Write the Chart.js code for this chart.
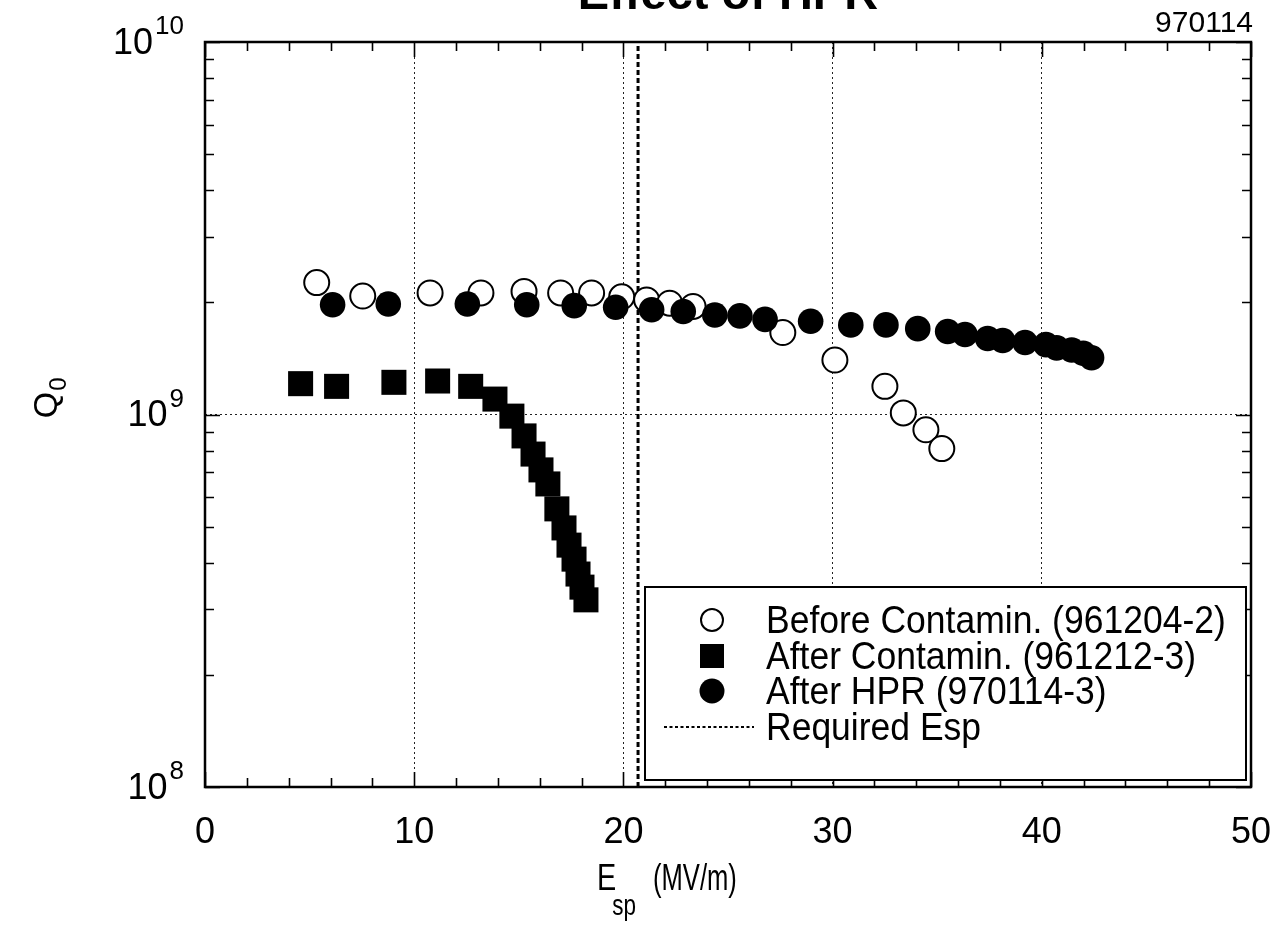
<!DOCTYPE html>
<html>
<head>
<meta charset="utf-8">
<title>Effect of HPR</title>
<script src="https://cdn.jsdelivr.net/npm/chart.js@4.4.1/dist/chart.umd.min.js"></script>
<style>
  html, body { margin: 0; padding: 0; background: #fff; }
  #wrap { width: 1280px; height: 925px; position: relative; overflow: hidden; }
  canvas { display: block; }
</style>
</head>
<body>
<div id="wrap"><canvas id="c" width="1280" height="925"></canvas></div>
<script>
// ---- data: Q0 versus peak surface field Esp (MV/m) ----
const seriesNames = [
  'Before Contamin. (961204-2)',
  'After Contamin. (961212-3)',
  'After HPR (970114-3)',
  'Required Esp'
];

const beforeE = [5.34, 7.54, 10.76, 13.19, 15.25, 17.00, 18.48, 19.92, 21.11, 22.21, 23.33, 27.62, 30.11, 32.50, 33.38, 34.46, 35.22];
const beforeQ = [2.26e9, 2.08e9, 2.12e9, 2.12e9, 2.14e9, 2.12e9, 2.12e9, 2.07e9, 2.03e9, 1.99e9, 1.95e9, 1.66e9, 1.40e9, 1.19e9, 1.01e9, 0.91e9, 0.81e9];

const contamE = [4.57, 6.29, 9.03, 11.12, 12.70, 13.86, 14.67, 15.25, 15.68, 16.06, 16.39, 16.82, 17.16, 17.40, 17.64, 17.83, 18.02, 18.21];
const contamQ = [1.21e9, 1.19e9, 1.22e9, 1.23e9, 1.19e9, 1.10e9, 0.99e9, 0.876e9, 0.783e9, 0.710e9, 0.651e9, 0.558e9, 0.496e9, 0.446e9, 0.409e9, 0.373e9, 0.344e9, 0.318e9];

const hprE = [6.10, 8.76, 12.54, 15.38, 17.65, 19.63, 21.35, 22.86, 24.37, 25.57, 26.77, 28.95, 30.87, 32.55, 34.07, 35.50, 36.33, 37.41, 38.13, 39.20, 40.20, 40.71, 41.43, 41.98, 42.38];
const hprQ = [1.97e9, 1.98e9, 1.98e9, 1.97e9, 1.96e9, 1.94e9, 1.91e9, 1.89e9, 1.85e9, 1.84e9, 1.80e9, 1.78e9, 1.74e9, 1.74e9, 1.70e9, 1.67e9, 1.64e9, 1.60e9, 1.58e9, 1.56e9, 1.54e9, 1.51e9, 1.49e9, 1.46e9, 1.42e9];

const requiredEsp = 20.7;
const qRange = [1e8, 1e10];
const eRange = [0, 50];

// axis ticks and labels
const xMajorTicks = [0, 10, 20, 30, 40, 50];
const xMinorTicks = [2, 4, 6, 8, 12, 14, 16, 18, 22, 24, 26, 28, 32, 34, 36, 38, 42, 44, 46, 48];
const yDecades = [1e8, 1e9, 1e10];
const yExponents = ['8', '9', '10'];
const yMinorTicks = [2e8, 3e8, 4e8, 5e8, 6e8, 7e8, 8e8, 9e8, 2e9, 3e9, 4e9, 5e9, 6e9, 7e9, 8e9, 9e9];

const titleText = 'Effect of HPR';
const runTag = '970114';

const FONT = '"Liberation Sans", Arial, Helvetica, sans-serif';

const toPoints = (xs, ys) => xs.map((x, i) => ({ x: x, y: ys[i] }));

const markerStyles = [
  { pointStyle: 'circle', radius: 12.5, fill: '#ffffff', stroke: '#000000', width: 2 },
  { pointStyle: 'rect', radius: 17.7, fill: '#000000', stroke: '#000000', width: 0 },
  { pointStyle: 'circle', radius: 12.8, fill: '#000000', stroke: '#000000', width: 0 }
];

function scatterSet(i, pts, order) {
  const m = markerStyles[i];
  return {
    type: 'scatter',
    label: seriesNames[i],
    data: pts,
    showLine: false,
    pointStyle: m.pointStyle,
    pointRadius: m.radius,
    pointHoverRadius: m.radius,
    backgroundColor: m.fill,
    borderColor: m.stroke,
    borderWidth: m.width,
    order: order
  };
}

// draws text squeezed horizontally (the lettering is narrow and tall)
function narrowText(ctx, text, x, y, sx, sy) {
  ctx.save();
  ctx.translate(x, y);
  ctx.scale(sx, sy);
  ctx.fillText(text, 0, 0);
  const w = ctx.measureText(text).width * sx;
  ctx.restore();
  return w;
}

// frame, inward tick marks, decade labels with exponents, axis titles
const decorations = {
  id: 'decorations',
  afterDatasetsDraw(chart) {
    const ctx = chart.ctx;
    const a = chart.chartArea;
    const xs = chart.scales.x, ys = chart.scales.y;
    ctx.save();
    ctx.strokeStyle = '#000';
    ctx.lineWidth = 1.6;
    const majorLen = 15, minorLen = 9;
    ctx.beginPath();
    xMinorTicks.forEach(v => {
      const px = Math.round(xs.getPixelForValue(v)) + 0.5;
      ctx.moveTo(px, a.bottom); ctx.lineTo(px, a.bottom - minorLen);
      ctx.moveTo(px, a.top); ctx.lineTo(px, a.top + minorLen);
    });
    xMajorTicks.forEach(v => {
      const px = Math.round(xs.getPixelForValue(v)) + 0.5;
      ctx.moveTo(px, a.bottom); ctx.lineTo(px, a.bottom - majorLen);
      ctx.moveTo(px, a.top); ctx.lineTo(px, a.top + majorLen);
    });
    yMinorTicks.forEach(v => {
      const py = Math.round(ys.getPixelForValue(v)) + 0.5;
      ctx.moveTo(a.left, py); ctx.lineTo(a.left + minorLen, py);
      ctx.moveTo(a.right, py); ctx.lineTo(a.right - minorLen, py);
    });
    yDecades.forEach(v => {
      const py = Math.round(ys.getPixelForValue(v)) + 0.5;
      ctx.moveTo(a.left, py); ctx.lineTo(a.left + majorLen, py);
      ctx.moveTo(a.right, py); ctx.lineTo(a.right - majorLen, py);
    });
    ctx.stroke();

    // plot frame
    ctx.lineWidth = 2.5;
    ctx.strokeRect(a.left, a.top, a.right - a.left, a.bottom - a.top);

    // decade labels 10^n
    ctx.fillStyle = '#000';
    const baseFont = '36px ' + FONT;
    const expFont = '26px ' + FONT;
    const labelRight = 184;
    yDecades.forEach((v, i) => {
      const py = ys.getPixelForValue(v);
      ctx.font = expFont;
      const we = ctx.measureText(yExponents[i]).width;
      ctx.textAlign = 'left';
      ctx.textBaseline = 'alphabetic';
      ctx.fillText(yExponents[i], labelRight - we, py - 8);
      ctx.font = baseFont;
      ctx.textAlign = 'right';
      ctx.textBaseline = 'middle';
      ctx.fillText('10', labelRight - we - 2, py + 2);
    });

    // x axis title: E_sp (MV/m)
    ctx.textAlign = 'left';
    ctx.textBaseline = 'alphabetic';
    ctx.font = '32px ' + FONT;
    const wE = narrowText(ctx, 'E', 597, 890, 0.9, 1.15);
    ctx.font = '25px ' + FONT;
    narrowText(ctx, 'sp', 597 + wE - 4, 915, 0.9, 1.15);
    ctx.font = '32px ' + FONT;
    narrowText(ctx, '(MV/m)', 653, 890, 0.8, 1.15);

    // y axis title: Q_0 (rotated)
    ctx.save();
    ctx.translate(44, 405);
    ctx.rotate(-Math.PI / 2);
    ctx.font = '34px ' + FONT;
    const wQ = ctx.measureText('Q').width;
    ctx.textAlign = 'left';
    ctx.fillText('Q', -wQ / 2, 13);
    ctx.font = '24px ' + FONT;
    ctx.fillText('0', wQ / 2 + 1, 22);
    ctx.restore();

    // title (runs off the top edge) and run tag
    ctx.font = 'bold 47px ' + FONT;
    ctx.textAlign = 'center';
    ctx.fillText(titleText, (a.left + a.right) / 2, 9);
    ctx.font = '30px ' + FONT;
    ctx.textAlign = 'right';
    ctx.fillText(runTag, 1253, 32);
    ctx.restore();
  },
  afterDraw(chart) {
    // boxed legend in the lower right of the plot
    const ctx = chart.ctx;
    const box = { left: 645, top: 587, right: 1246, bottom: 780 };
    ctx.save();
    ctx.fillStyle = '#fff';
    ctx.fillRect(box.left, box.top, box.right - box.left, box.bottom - box.top);
    ctx.strokeStyle = '#000';
    ctx.lineWidth = 2;
    ctx.strokeRect(box.left, box.top, box.right - box.left, box.bottom - box.top);
    const rows = [620, 656, 691, 727];
    const symX = 712, textX = 766;
    ctx.font = '35.5px ' + FONT;
    ctx.textBaseline = 'middle';
    ctx.textAlign = 'left';
    seriesNames.forEach((name, i) => {
      const y = rows[i];
      if (i < 3) {
        const m = markerStyles[i];
        ctx.beginPath();
        if (m.pointStyle === 'rect') {
          const s = 12;
          ctx.rect(symX - s, y - s, 2 * s, 2 * s);
        } else {
          ctx.arc(symX, y, i === 0 ? 11 : 12.5, 0, Math.PI * 2);
        }
        ctx.fillStyle = m.fill;
        ctx.fill();
        if (m.width > 0) { ctx.lineWidth = m.width; ctx.strokeStyle = m.stroke; ctx.stroke(); }
      } else {
        ctx.beginPath();
        ctx.setLineDash([3, 2.5]);
        ctx.lineWidth = 2;
        ctx.strokeStyle = '#000';
        ctx.moveTo(664, y); ctx.lineTo(754, y);
        ctx.stroke();
        ctx.setLineDash([]);
      }
      ctx.fillStyle = '#000';
      ctx.save();
      ctx.translate(textX, y + 2);
      ctx.scale(1, 1.08);
      ctx.fillText(name, 0, 0);
      ctx.restore();
    });
    ctx.restore();
  }
};

const chart = new Chart(document.getElementById('c'), {
  data: {
    datasets: [
      scatterSet(0, toPoints(beforeE, beforeQ), 3),
      scatterSet(1, toPoints(contamE, contamQ), 2),
      scatterSet(2, toPoints(hprE, hprQ), 1),
      {
        type: 'line',
        label: seriesNames[3],
        data: [{ x: requiredEsp, y: qRange[0] }, { x: requiredEsp, y: qRange[1] }],
        borderColor: '#000',
        borderWidth: 3,
        borderDash: [5, 3],
        pointRadius: 0,
        fill: false,
        order: 5
      }
    ]
  },
  options: {
    responsive: false,
    animation: false,
    devicePixelRatio: 1,
    layout: { padding: { left: 205, right: 29, top: 42, bottom: 0 } },
    plugins: {
      legend: { display: false },
      tooltip: { enabled: false },
      title: { display: false }
    },
    scales: {
      x: {
        type: 'linear',
        position: 'bottom',
        min: eRange[0],
        max: eRange[1],
        afterFit(scale) {
          scale.height = 138;
          scale.paddingLeft = 0;
          scale.paddingRight = 0;
        },
        ticks: {
          stepSize: 10,
          color: '#000',
          font: { family: FONT, size: 36 },
          padding: 24,
          maxRotation: 0
        },
        grid: {
          drawTicks: false,
          lineWidth: 1,
          color: (c) => (c.tick && c.tick.value > eRange[0] && c.tick.value < eRange[1]) ? '#222' : 'rgba(0,0,0,0)'
        },
        border: { display: false, dash: [2, 3] }
      },
      y: {
        type: 'logarithmic',
        min: qRange[0],
        max: qRange[1],
        afterFit(scale) {
          scale.width = 0;
          scale.paddingTop = 0;
          scale.paddingBottom = 0;
        },
        ticks: { display: false },
        grid: {
          drawTicks: false,
          lineWidth: 1,
          color: (c) => (c.tick && c.tick.value === 1e9) ? '#222' : 'rgba(0,0,0,0)'
        },
        border: { display: false, dash: [2, 3] }
      }
    }
  },
  plugins: [decorations]
});
</script>
</body>
</html>
